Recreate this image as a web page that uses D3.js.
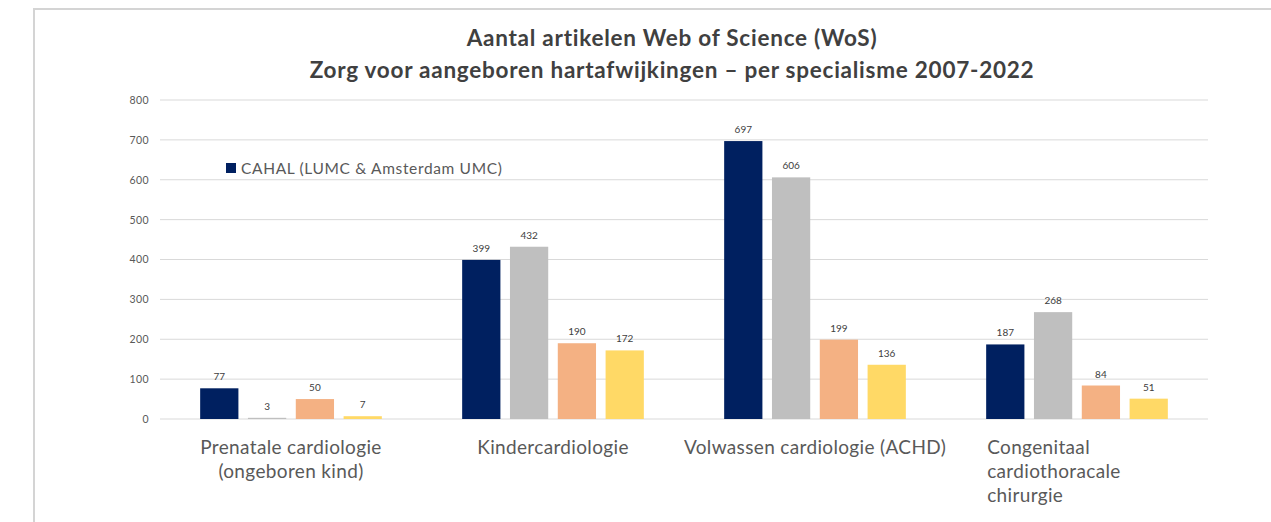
<!DOCTYPE html>
<html>
<head>
<meta charset="utf-8">
<script src="https://cdnjs.cloudflare.com/ajax/libs/d3/7.8.5/d3.min.js"></script>
<style>
  body { margin: 0; background: #fff; }
  text { font-family: Lato, "Open Sans", sans-serif; }
</style>
</head>
<body>
<div id="chart-area"></div>
<script>
// data
const categories = [
    ["Prenatale cardiologie", "(ongeboren kind)"],
    ["Kindercardiologie"],
    ["Volwassen cardiologie (ACHD)"],
    ["Congenitaal", "cardiothoracale", "chirurgie"]
];
const seriesKeys = ["s1", "s2", "s3", "s4"];
const seriesValues = [
    [77, 399, 697, 187],
    [3, 432, 606, 268],
    [50, 190, 199, 84],
    [7, 172, 136, 51]
];
const legendNames = ["CAHAL (LUMC & Amsterdam UMC)"];
const yTicks = [0, 100, 200, 300, 400, 500, 600, 700, 800];
const titleLines = ["Aantal artikelen Web of Science (WoS)",
    "Zorg voor aangeboren hartafwijkingen \u2013 per specialisme 2007-2022"];

const colors = ["#002060", "#BFBFBF", "#F4B183", "#FFD966"];

let width = 1271, height = 522;
let margin = {top: 100, left: 160, right: 63, bottom: 103};
let plotW = width - margin.left - margin.right,
    plotH = height - margin.top - margin.bottom;

const svg = d3.select("#chart-area").append("svg")
    .attr("width", width)
    .attr("height", height)

// frame
svg.append("path")
    .attr("d", `M34,${height} L34,9 L${width},9`)
    .attr("fill", "none")
    .attr("stroke", "#d4d4d4")
    .attr("stroke-width", 2)

// title
svg.selectAll(".title").data(titleLines).enter().append("text")
    .attr("x", 672)
    .attr("y", (d, i) => 46 + i * 32)
    .attr("text-anchor", "middle")
    .attr("font-size", "22.5px")
    .attr("letter-spacing", "0.75px")
    .attr("font-weight", "bold")
    .attr("fill", "#404040")
    .text(d => d)

const chart = svg.append("g")
    .attr("transform", `translate(${margin.left}, ${margin.top})`)

const y = d3.scaleLinear()
    .domain([0, 800])
    .range([plotH, 0])

const x0 = d3.scaleBand()
    .domain(d3.range(categories.length))
    .range([0, plotW])

const x1 = d3.scaleBand()
    .domain(seriesKeys)
    .range([0, x0.bandwidth()])
    .paddingInner(0.2)
    .paddingOuter(0.84)

// grid
chart.selectAll(".grid").data(yTicks).enter().append("line")
    .attr("x1", 0)
    .attr("x2", plotW)
    .attr("y1", d => y(d))
    .attr("y2", d => y(d))
    .attr("stroke", "#d9d9d9")
    .attr("stroke-width", 1)

const yAxis = chart.append("g")
    .call(d3.axisLeft(y).tickValues(yTicks).tickSize(0).tickPadding(11))
yAxis.select(".domain").remove()
yAxis.selectAll("text")
    .attr("font-size", "10.5px")
    .attr("letter-spacing", "0.4px")
    .attr("fill", "#595959")
    .style("font-family", "Lato, sans-serif")

// bars
const groups = chart.selectAll(".grp").data(categories).enter().append("g")
    .attr("transform", (d, i) => `translate(${x0(i)},0)`)

groups.selectAll("rect")
    .data((d, i) => seriesKeys.map((k, j) => ({key: k, j: j, v: seriesValues[j][i]})))
    .enter().append("rect")
    .attr("x", d => x1(d.key))
    .attr("y", d => y(d.v))
    .attr("width", x1.bandwidth())
    .attr("height", d => plotH - y(d.v))
    .attr("fill", d => colors[d.j])

groups.selectAll(".val")
    .data((d, i) => seriesKeys.map((k, j) => ({key: k, j: j, v: seriesValues[j][i]})))
    .enter().append("text")
    .attr("x", d => x1(d.key) + x1.bandwidth() / 2)
    .attr("y", d => y(d.v) - 8)
    .attr("text-anchor", "middle")
    .attr("font-size", "10px")
    .attr("fill", "#404040")
    .text(d => d.v)

// category labels
groups.each(function(lines, i) {
    const g = d3.select(this);
    const left = i === 3;
    g.selectAll(".cat").data(lines).enter().append("text")
        .attr("x", left ? x1(seriesKeys[0]) + 1 : x0.bandwidth() / 2)
        .attr("y", (d, k) => plotH + 35 + k * 24)
        .attr("text-anchor", left ? "start" : "middle")
        .attr("font-size", "19px")
        .attr("letter-spacing", "0.35px")
        .attr("fill", "#595959")
        .text(d => d)
})

// legend
const legend = svg.append("g")
    .attr("transform", "translate(226, 163)")
legend.selectAll("rect").data(legendNames).enter().append("rect")
    .attr("width", 10)
    .attr("height", 10)
    .attr("fill", (d, i) => colors[i])
legend.selectAll("text").data(legendNames).enter().append("text")
    .attr("x", 15)
    .attr("y", 11)
    .attr("font-size", "15.5px")
    .attr("letter-spacing", "0.65px")
    .attr("fill", "#595959")
    .text(d => d)
</script>
</body>
</html>
